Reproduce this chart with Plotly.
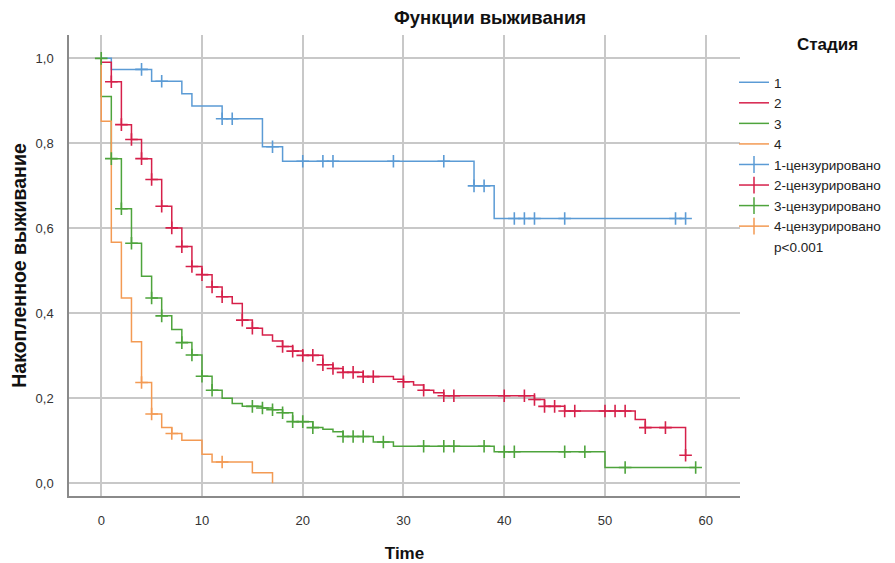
import plotly.graph_objects as go

# ---- data ----
# Stage 1
t1 = [0, 1, 5, 8, 9, 12, 16, 18, 37, 39, 58]
s1 = [1.0, 0.974, 0.946, 0.917, 0.888, 0.858, 0.792, 0.758, 0.700, 0.623, 0.623]
c1_t = [4, 6, 12, 13, 17, 20, 22, 23, 29, 34, 37, 38, 41, 42, 43, 46, 57, 58]
c1_s = [0.974, 0.946, 0.858, 0.858, 0.792, 0.758, 0.758, 0.758, 0.758, 0.758,
        0.700, 0.700, 0.623, 0.623, 0.623, 0.623, 0.623, 0.623]

# Stage 2
t2 = [0, 0, 1, 2, 3, 4, 5, 6, 7, 8, 9, 10, 11, 12, 13, 14, 15, 16, 17, 18, 19, 20,
      22, 23, 24, 26, 29, 30, 31, 32, 33, 34, 43, 44, 46, 53, 54, 58]
s2 = [1.0, 0.991, 0.945, 0.844, 0.809, 0.764, 0.715, 0.652, 0.601, 0.557, 0.510,
      0.491, 0.462, 0.439, 0.423, 0.384, 0.365, 0.349, 0.335, 0.322, 0.311, 0.301,
      0.279, 0.270, 0.261, 0.251, 0.245, 0.239, 0.231, 0.219, 0.213, 0.206, 0.197,
      0.181, 0.170, 0.150, 0.131, 0.066]
c2_t = [1, 2, 3, 4, 5, 6, 7, 8, 9, 10, 11, 12, 14, 15, 18, 19, 20, 21, 22, 23, 24, 25,
        26, 27, 30, 32, 34, 35, 40, 42, 43, 44, 45, 46, 47, 50, 51, 52, 54, 56, 58]
c2_s = [0.945, 0.844, 0.809, 0.764, 0.715, 0.652, 0.601, 0.557, 0.510, 0.491, 0.462,
        0.439, 0.384, 0.365, 0.322, 0.311, 0.301, 0.301, 0.279, 0.270, 0.261, 0.261,
        0.251, 0.251, 0.239, 0.219, 0.206, 0.206, 0.206, 0.206, 0.197, 0.181, 0.181,
        0.170, 0.170, 0.170, 0.170, 0.170, 0.131, 0.131, 0.066]

# Stage 3
t3 = [0, 0, 1, 2, 3, 4, 5, 6, 7, 8, 9, 10, 11, 12, 13, 14, 16, 17, 18, 19, 21, 22,
      23, 24, 27, 29, 39, 50, 59]
s3 = [1.0, 0.910, 0.764, 0.646, 0.565, 0.487, 0.436, 0.394, 0.362, 0.331, 0.302,
      0.252, 0.219, 0.200, 0.188, 0.181, 0.177, 0.173, 0.166, 0.145, 0.131, 0.127,
      0.121, 0.110, 0.097, 0.087, 0.074, 0.037, 0.037]
c3_t = [0, 1, 2, 3, 5, 6, 8, 9, 10, 11, 15, 16, 17, 18, 19, 20, 21, 24, 25, 26, 28,
        32, 34, 35, 38, 40, 41, 46, 48, 52, 59]
c3_s = [1.0, 0.764, 0.646, 0.565, 0.436, 0.394, 0.331, 0.302, 0.252, 0.219, 0.181,
        0.177, 0.173, 0.166, 0.145, 0.145, 0.131, 0.110, 0.110, 0.110, 0.097, 0.087,
        0.087, 0.087, 0.087, 0.074, 0.074, 0.074, 0.074, 0.037, 0.037]

# Stage 4
t4 = [0, 0, 1, 2, 3, 4, 5, 6, 7, 8, 10, 11, 15, 17]
s4 = [1.0, 0.852, 0.567, 0.436, 0.333, 0.237, 0.163, 0.131, 0.117, 0.101, 0.068,
      0.050, 0.025, 0.0]
c4_t = [4, 5, 7, 12]
c4_s = [0.237, 0.163, 0.117, 0.050]

names = ["1", "2", "3", "4"]
cens_names = ["1-цензурировано", "2-цензурировано", "3-цензурировано", "4-цензурировано"]
colors = ["#5b9bd5", "#d6204a", "#4ea43c", "#f39a53"]

y_ticks = [0.0, 0.2, 0.4, 0.6, 0.8, 1.0]
y_labels = ["0,0", "0,2", "0,4", "0,6", "0,8", "1,0"]
x_ticks = [0, 10, 20, 30, 40, 50, 60]

steps = [(t1, s1), (t2, s2), (t3, s3), (t4, s4)]
cens = [(c1_t, c1_s), (c2_t, c2_s), (c3_t, c3_s), (c4_t, c4_s)]

FONT = "Liberation Sans, Arial, sans-serif"

W, H = 895, 563
ML, MR, MT, MB = 69, 10, 35, 67
PW = W - ML - MR          # paper width
PH = H - MT - MB          # paper height
PLOT_RIGHT = 740          # right edge of the plotting area in px

def px_x(px):
    return (px - ML) / PW

def px_y(py):
    return (H - MB - py) / PH

fig = go.Figure()
for (tx, sy), nm, col in zip(steps, names, colors):
    fig.add_trace(go.Scatter(x=tx, y=sy, mode="lines", line=dict(color=col, width=1.5, shape="hv"),
                             name=nm, showlegend=True))
for (ct, cs), col in zip(cens, colors):
    fig.add_trace(go.Scatter(x=ct, y=cs, mode="markers",
                             marker=dict(symbol="cross-thin", size=9, line=dict(color=col, width=1.6)),
                             showlegend=False, hoverinfo="skip"))
for nm, col in zip(cens_names, colors):
    fig.add_trace(go.Scatter(x=[None], y=[None], mode="lines+markers", name=nm,
                             line=dict(color=col, width=1.5),
                             marker=dict(symbol="line-ns", size=12, line=dict(color=col, width=1.5))))
fig.add_trace(go.Scatter(x=[None], y=[None], mode="markers", name="p<0.001",
                         marker=dict(color="rgba(0,0,0,0)", size=1)))

fig.update_layout(
    width=W, height=H,
    margin=dict(l=ML, r=MR, t=MT, b=MB, autoexpand=False),
    paper_bgcolor="white", plot_bgcolor="white",
    font=dict(family=FONT, color="#222222"),
    title=dict(text="<b>Функции выживания</b>", x=490 / W, xref="container", xanchor="center",
               y=1 - 18 / H, yref="container", yanchor="middle",
               font=dict(size=18.5, color="#111111")),
    showlegend=True,
    legend=dict(x=px_x(734), xanchor="left", y=px_y(67), yanchor="top",
                font=dict(size=13.5, color="#222222"), bgcolor="rgba(0,0,0,0)",
                itemwidth=30, tracegroupgap=0),
    annotations=[dict(text="<b>Стадия</b>", x=px_x(827), y=px_y(45), xref="paper", yref="paper",
                      xanchor="center", yanchor="middle", showarrow=False,
                      font=dict(size=17, color="#111111"))],
)

fig.update_xaxes(domain=[0, px_x(PLOT_RIGHT)], automargin=False,
                 range=[-3.2, 63.4], tickvals=x_ticks, ticktext=[str(v) for v in x_ticks],
                 showgrid=True, gridcolor="#c8c8c8", gridwidth=1.5, zeroline=False,
                 showline=True, linecolor="#8a8a8a", linewidth=1.5,
                 ticks="outside", ticklen=12, tickcolor="rgba(0,0,0,0)",
                 tickfont=dict(size=13, color="#333333"),
                 title=dict(text="<b>Time</b>", font=dict(size=17, color="#111111"), standoff=20))
fig.update_yaxes(automargin=False, range=[-0.03, 1.055], tickvals=y_ticks, ticktext=y_labels,
                 showgrid=True, gridcolor="#c8c8c8", gridwidth=1.5, zeroline=False,
                 showline=True, linecolor="#8a8a8a", linewidth=1.5,
                 ticks="outside", ticklen=11, tickcolor="rgba(0,0,0,0)",
                 tickfont=dict(size=13, color="#333333"),
                 title=dict(text="<b>Накопленное выживание</b>", font=dict(size=19.5, color="#111111"),
                            standoff=4))

fig.write_html("out.html")
